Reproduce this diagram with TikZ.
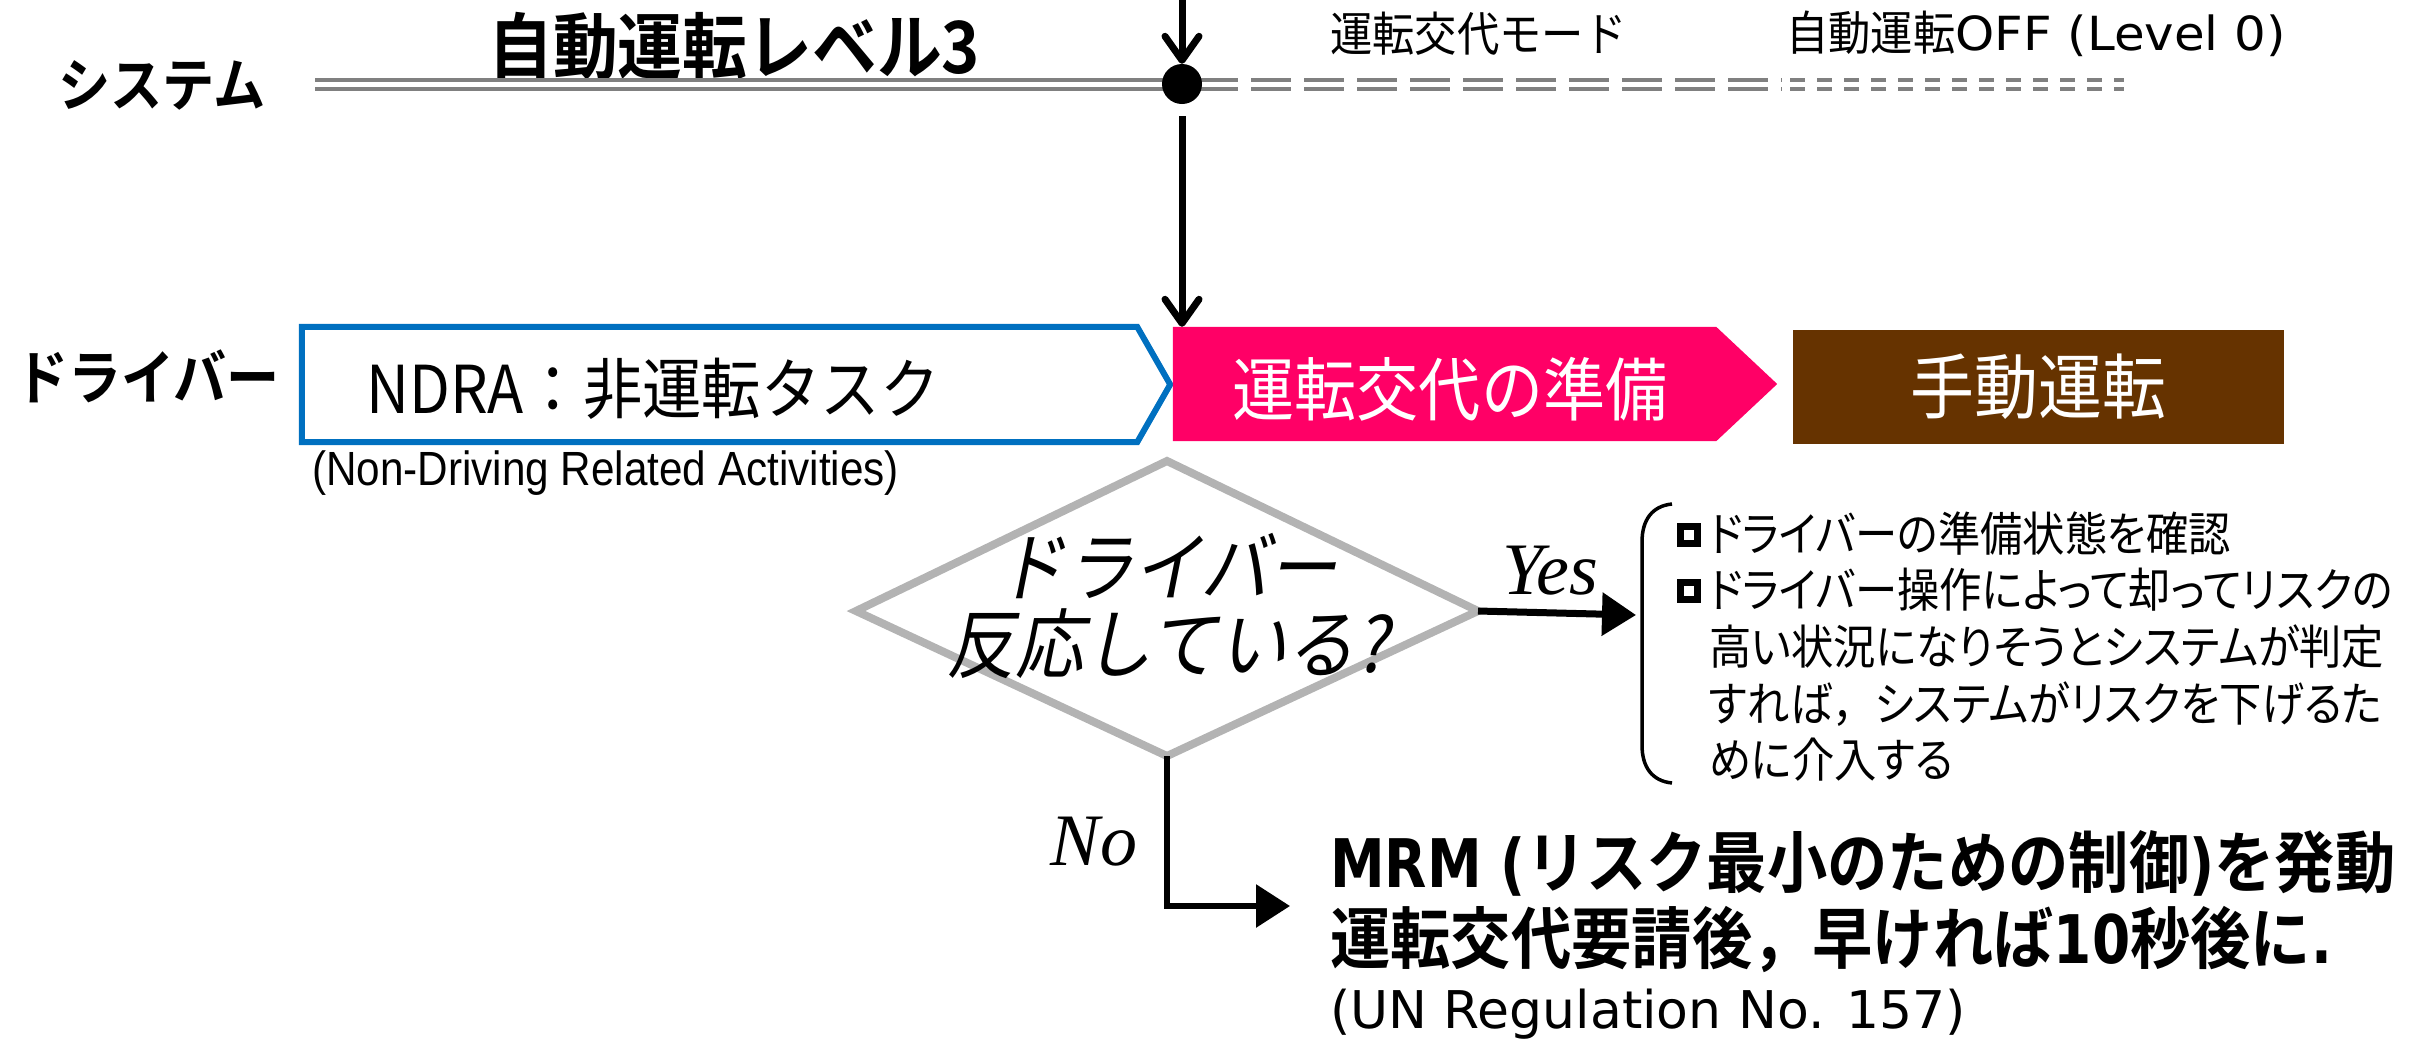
\documentclass[tikz,border=0pt]{standalone}
\usepackage{fontspec}
\usetikzlibrary{arrows.meta,shapes.geometric}
\setmainfont{Noto Sans CJK JP}
\newfontfamily\jp[FakeStretch=0.9]{Noto Sans CJK JP}
\newfontfamily\jpl[FakeStretch=0.9,RawFeature={+palt}]{Noto Sans CJK JP}
\IfFontExistsTF{Noto Sans CJK JP Bold}
  {\newfontfamily\jpb[FakeStretch=0.9]{Noto Sans CJK JP Bold}}
  {\newfontfamily\jpb[FakeStretch=0.9,FakeBold=3]{Noto Sans CJK JP}}
\newfontfamily\jpit[FakeStretch=0.9,FakeSlant=0.2]{Noto Sans CJK JP}
\newfontfamily\arialc[FakeStretch=0.88]{Liberation Sans}
\newfontfamily\dvs{DejaVu Sans}
\newfontfamily\dvsc[FakeStretch=1.06]{DejaVu Sans}
\IfFontExistsTF{DejaVu Sans Bold}
  {\newfontfamily\dvsb[FakeStretch=0.82]{DejaVu Sans Bold}}
  {\newfontfamily\dvsb[FakeStretch=0.82,FakeBold=3]{DejaVu Sans}}
\newfontfamily\tmsit{Liberation Serif}
\definecolor{ndrablue}{HTML}{0070C0}
\definecolor{pinkc}{HTML}{FF0066}
\definecolor{brownc}{HTML}{663300}
\definecolor{dgray}{HTML}{B3B3B3}
\definecolor{lgray}{HTML}{808080}
\newcommand{\bsq}{\raisebox{5pt}{\rlap{\rule{24pt}{24pt}}\hspace{7pt}\raisebox{7pt}{\textcolor{white}{\rule{10pt}{10pt}}}\hspace{7pt}}\hspace{8pt}}
\newcommand{\bind}{\hspace{32pt}}
\begin{document}
\begin{tikzpicture}[x=1pt,y=-1pt,
  lbl/.style={inner sep=0pt, anchor=west},
  helper/.style={inner sep=0pt, minimum width=#1},
  barb/.style={line width=7pt, -{Straight Barb[length=24pt,width=34pt,round]}},
  tri/.style={-{Triangle[length=34pt,width=42pt]}},
  sysline/.style={draw=lgray, line width=4pt, double=white, double distance=5pt},
]
\useasboundingbox (0,0) rectangle (2409,1045);

% ---- system row
\node[lbl] (sys) at (58,85) {\jpb\fontsize{58}{64}\selectfont システム};
\node[lbl] (lv3) at (488,46) {\jpb\fontsize{72}{78}\selectfont 自動運転レベル3};
\node[lbl] (mode) at (1330,34) {\jp\fontsize{47}{54}\selectfont 運転交代モード};
\node[lbl] (off) at (1786,34) {\jp\fontsize{47}{54}\selectfont 自動運転{\dvsc OFF (Level 0)}};

\coordinate (sysStart) at (315,84);
\coordinate (dotc) at (1182,84);
\coordinate (modeEnd) at (1782,84);
\coordinate (sysEnd) at (2124,84);
\coordinate (topIn) at (1182,0);

\draw[sysline] (sysStart) -- (dotc);
\draw[sysline, dash pattern=on 40pt off 13pt] ([xshift=16pt]dotc) -- (modeEnd);
\draw[sysline, dash pattern=on 15pt off 12pt] ([xshift=8pt]modeEnd) -- (sysEnd);
\node[circle, fill=black, minimum size=40pt, inner sep=0pt] (dot) at (dotc) {};

% ---- driver row
\node[lbl] (drv) at (15,376) {\jpb\fontsize{59}{64}\selectfont ドライバー};

\node[helper=835pt, minimum height=115pt] (ndra) at (719.5,384.5) {};
\draw[ndrablue, line width=6pt, line join=miter]
  (ndra.north west) -- (ndra.north east) -- ([xshift=33pt]ndra.east) -- (ndra.south east) -- (ndra.south west) -- cycle;
\node[lbl] (ndratext) at (366,389) {\jp\fontsize{66}{72}\selectfont NDRA：非運転タスク};
\node[lbl] (ndrasub) at (312,473) {\arialc\fontsize{48}{54}\selectfont (Non-Driving Related Activities)};

\node[helper=543pt, minimum height=114pt] (prep) at (1444.5,384) {};
\fill[pinkc] (prep.north west) -- (prep.north east) -- ([xshift=61pt]prep.east) -- (prep.south east) -- (prep.south west) -- cycle;
\node[inner sep=0pt, text=white] (preptext) at (1450,389) {\jp\fontsize{69}{74}\selectfont 運転交代の準備};

\node[fill=brownc, minimum width=491pt, minimum height=114pt, inner sep=0pt, text=white] (manual) at (2038.5,387) {\jp\fontsize{71}{76}\selectfont 手動運転};

% ---- arrows from top
\draw[barb] (topIn) -- (dot.north);
\draw[barb, shorten <=12pt] (dot.south) -- (dot.south |- prep.north);

% ---- decision
\coordinate (qL) at (856,611);
\coordinate (qT) at (1167,461);
\coordinate (qR) at (1478,611);
\coordinate (qB) at (1167,756);
\draw[dgray, line width=8pt, line join=miter] (qL) -- (qT) -- (qR) -- (qB) -- cycle;
\node[inner sep=0pt, align=center, font=\jpit\fontsize{76}{77}\selectfont] (q) at (1167,606) {ドライバー\\反応している?};

% ---- yes branch
\node[lbl] (list) at (1677,653) {\jpl\fontsize{47}{56}\selectfont
  \begin{tabular}{@{}l@{}}
  \bsq ドライバーの準備状態を確認\\
  \bsq ドライバー操作によって却ってリスクの\\
  \bind 高い状況になりそうとシステムが判定\\
  \bind すれば{\jp ，}システムがリスクを下げるた\\
  \bind めに介入する
  \end{tabular}};
\coordinate (brTop) at (1672,504);
\coordinate (brBot) at (1672,783);
\draw[line width=3.5pt] (brTop) .. controls (1652,506) and (1642,520) .. (1642,542) -- (1642,745) .. controls (1642,767) and (1652,781) .. (brBot);
\coordinate (yesEnd) at (1636,615);
\draw[line width=7pt, tri] (qR) -- (yesEnd);
\node[inner sep=0pt] (yes) at (1550,571) {\tmsit\itshape\fontsize{74}{78}\selectfont Yes};

% ---- no branch
\node[lbl] (mrm) at (1330,906) {\jpb\fontsize{67}{62}\selectfont
  \begin{tabular}{@{}l@{}}
  {\dvsb MRM (}リスク最小のための制御{\dvsb )}を発動\\
  運転交代要請後，早ければ{\dvsb 10}秒後に{\dvsb .}
  \end{tabular}};
\node[lbl] (un) at (1330,1014) {\dvs\fontsize{52}{58}\selectfont (UN Regulation No. 157)};
\draw[line width=6pt, tri] (qB) |- ([xshift=-40pt]mrm.west);
\node[inner sep=0pt] (no) at (1094,842) {\tmsit\itshape\fontsize{74}{78}\selectfont No};
\end{tikzpicture}
\end{document}
